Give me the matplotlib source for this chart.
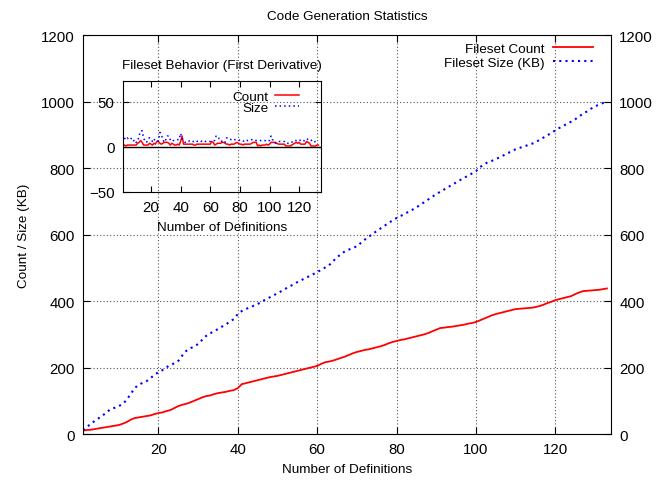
import numpy as np
import matplotlib.pyplot as plt

plt.rcParams['font.family'] = ['Liberation Sans', 'DejaVu Sans']
plt.rcParams['font.size'] = 9.7

definitions = np.arange(1, 134)
fileset_count = [
    10, 12, 13, 15, 17, 19, 21, 23, 25, 27, 31, 36, 43, 48, 50, 52, 54, 56, 60, 63,
    65, 69, 72, 78, 84, 88, 91, 95, 100, 105, 110, 114, 116, 120, 123, 125, 127, 130, 132, 138,
    150, 153, 156, 159, 162, 165, 168, 171, 173, 175, 178, 181, 184, 187, 190, 193, 196, 199, 202, 205,
    211, 216, 218, 221, 225, 229, 233, 238, 243, 247, 250, 253, 255, 258, 261, 264, 268, 273, 277, 280,
    283, 285, 288, 291, 294, 297, 300, 304, 309, 314, 319, 320, 322, 323, 325, 327, 329, 332, 334, 337,
    342, 347, 352, 357, 361, 364, 367, 370, 373, 376, 377, 378, 379, 380, 382, 385, 389, 394, 398, 403,
    406, 409, 412, 415, 421, 426, 430, 431, 432, 433, 434, 436, 438,
]
fileset_size = [
    12, 22, 30, 40, 48, 56, 66, 75, 79, 84, 90, 103, 120, 138, 148, 154, 159, 168, 178, 186,
    192, 201, 207, 213, 220, 236, 250, 258, 263, 271, 283, 295, 303, 309, 316, 323, 330, 338, 346, 361,
    370, 376, 381, 386, 391, 398, 405, 411, 417, 424, 430, 437, 444, 450, 457, 463, 469, 475, 481, 487,
    494, 501, 508, 520, 532, 541, 550, 555, 560, 565, 575, 585, 594, 602, 611, 619, 627, 635, 643, 650,
    656, 662, 669, 675, 682, 690, 698, 706, 714, 722, 729, 736, 743, 750, 757, 764, 771, 777, 784, 791,
    803, 811, 818, 822, 827, 833, 839, 845, 851, 857, 861, 865, 869, 873, 878, 885, 892, 899, 906, 914,
    921, 927, 934, 940, 947, 956, 964, 971, 979, 986, 991, 996, 1001,
]

x_ticks = [20, 40, 60, 80, 100, 120]
y_ticks = [0, 200, 400, 600, 800, 1000, 1200]
inset_y_ticks = [-50, 0, 50]

fig = plt.figure(figsize=(6.64, 4.81), dpi=100)
ax = fig.add_axes([0.125, 0.0956, 0.795, 0.829])

ax.plot(definitions, fileset_count, color='#ff0000', lw=1.3, label='Fileset Count')
ax.plot(definitions, fileset_size, color='#0000ff', lw=1.5, ls=(0, (1, 2)), label='Fileset Size (KB)')
ax.set_xlim(1, 134)
ax.set_ylim(0, 1200)
ax.set_xticks(x_ticks)
ax.set_yticks(y_ticks)
ax.grid(True, color='#555555', ls=(0, (1, 2)), lw=0.8)
ax.tick_params(direction='in', top=True, right=True, labelright=True, length=5,
               labelsize=10.8, pad=6)
ax.set_title('Code Generation Statistics', fontsize=9.7, pad=12)
ax.set_xlabel('Number of Definitions', labelpad=5)
ax.set_ylabel('Count / Size (KB)', labelpad=8)
ax.legend(loc='upper right', bbox_to_anchor=(0.977, 0.995), borderaxespad=0,
          frameon=False, markerfirst=False, handlelength=3.0,
          labelspacing=0.12, handletextpad=0.6)

# inset with first derivative
inset = fig.add_axes([0.185, 0.5988, 0.299, 0.2307])
inset.patch.set_alpha(0)
d_count = np.diff(fileset_count)
d_size = np.diff(fileset_size)
inset.axhline(0, color='k', lw=1)
inset.plot(definitions[1:], d_count, color='#ff0000', lw=1.1, label='Count')
inset.plot(definitions[1:], d_size, color='#0000ff', lw=1.1, ls=(0, (1, 2)), label='Size')
inset.set_xlim(1, 135)
inset.set_ylim(-50, 73)
inset.set_xticks(x_ticks)
inset.set_yticks(inset_y_ticks)
inset.tick_params(direction='in', top=True, right=True, length=4, labelsize=10.8, pad=6)
inset.set_title('Fileset Behavior (First Derivative)', fontsize=9.7, pad=9.5)
inset.set_xlabel('Number of Definitions', labelpad=5)
inset.legend(loc='upper right', bbox_to_anchor=(0.916, 0.964), borderaxespad=0,
             frameon=False, markerfirst=False, handlelength=1.8,
             labelspacing=-0.1, handletextpad=0.5)

fig.savefig('out.png', dpi=100)
